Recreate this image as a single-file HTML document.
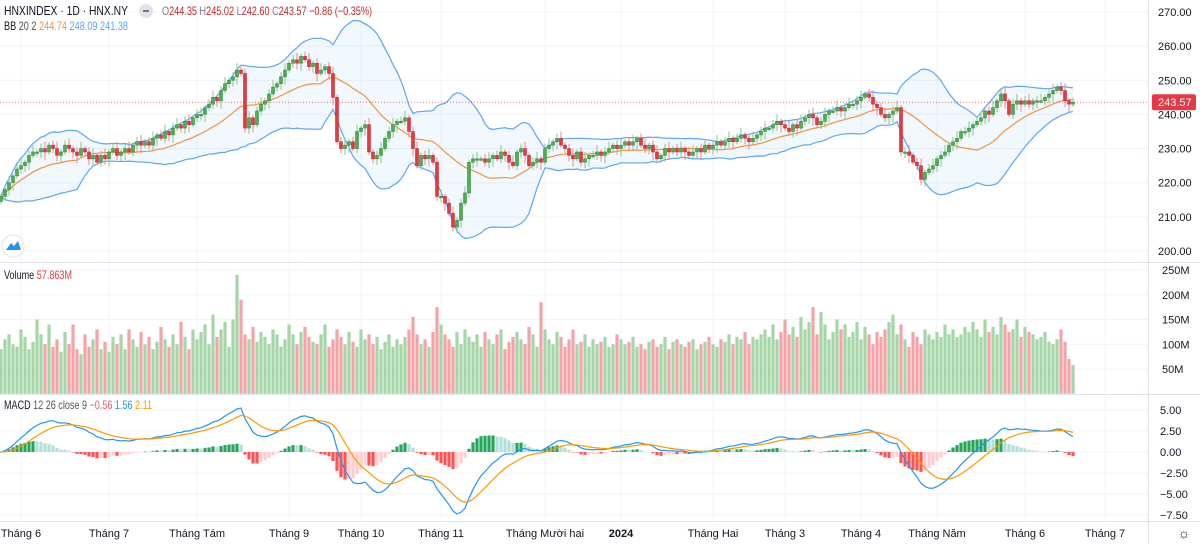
<!DOCTYPE html>
<html><head><meta charset="utf-8"><style>
body{margin:0;background:#fff;font-family:"Liberation Sans",sans-serif}
svg{display:block}
text{font-family:"Liberation Sans",sans-serif}
</style></head><body>
<svg id="c" width="1200" height="544" xmlns="http://www.w3.org/2000/svg"></svg>
<script>
const closes=[216,218,220,222,224,225,226,228,229,229,
230,229,231,230,228,229,231,230,229,228,
230,229,227,228,226,228,227,229,230,228,
229,230,229,231,232,231,232,231,233,234,
233,235,234,236,237,236,238,237,239,240,
240,242,243,245,244,247,249,250,251,253,
252,236,239,237,241,243,244,246,248,249,
251,253,255,256,255,257,256,254,255,252,
253,254,252,245,232,230,231,232,230,235,
236,237,229,227,228,230,233,235,237,238,
238,239,235,230,225,228,227,228,226,216,
216,214,211,207,209,214,217,226,227,227,
227,226,227,228,227,229,228,226,225,229,
230,228,225,226,227,226,230,231,232,233,
231,230,228,227,229,226,227,228,228,229,
228,229,230,231,230,231,232,231,232,233,
231,230,231,229,227,228,230,229,230,229,
230,229,228,229,230,229,231,230,231,232,
231,232,233,232,233,234,233,232,233,234,
235,236,236,237,238,237,236,235,237,236,
238,239,240,239,237,238,240,241,241,242,
241,242,243,243,244,245,246,245,243,242,
240,239,240,241,242,229,229,228,226,225,
221,223,224,225,227,228,229,231,232,233,
235,235,236,237,238,239,241,240,242,244,
246,244,240,243,244,243,244,243,244,244,
244,245,246,247,248,247,244,243,243.57];
const volumes=[90,110,120,100,95,130,115,90,105,150,
120,100,140,95,110,85,125,100,140,90,
80,120,95,110,130,90,105,85,115,100,
120,90,130,110,95,125,100,115,90,105,
135,110,95,120,100,145,115,90,130,110,
125,140,100,160,115,130,145,95,150,240,
190,120,110,135,105,125,115,100,130,120,
95,110,140,120,100,125,135,115,105,100,
120,140,95,110,130,115,100,125,105,95,
130,110,120,100,115,90,105,120,95,110,
100,115,130,155,120,100,110,95,125,175,
140,120,110,95,125,100,130,115,105,120,
95,125,110,100,120,130,90,105,115,125,
110,100,135,120,95,185,130,110,100,125,
115,95,110,130,100,105,120,95,110,100,
105,115,95,100,120,110,100,105,115,95,
100,90,105,110,95,100,115,90,105,110,
100,95,105,110,90,100,105,115,100,95,
110,105,120,100,115,110,125,100,115,110,
120,130,115,140,110,125,150,120,135,115,
155,130,145,175,120,165,140,110,125,150,
130,140,115,125,145,110,135,120,100,125,
115,130,145,160,120,140,110,95,125,115,
100,130,120,110,125,115,140,120,130,115,
120,135,125,145,130,115,150,125,135,120,
155,140,125,130,150,115,135,125,120,110,
115,125,105,100,110,130,105,70,57.863];
const priceTicks=[270,260,250,240,230,220,210,200];
const volTicks=[250,200,150,100,50];
const macdTicks=[5,2.5,0,-2.5,-5,-7.5];
const monthLabels=["Tháng 6","Tháng 7","Tháng Tám","Tháng 9","Tháng 10","Tháng 11","Tháng Mười hai","2024","Tháng Hai","Tháng 3","Tháng 4","Tháng Năm","Tháng 6","Tháng 7"];
const monthBar=[5,27,49,72,90,110,136,155,178,196,215,234,256,276];

const NS="http://www.w3.org/2000/svg",S=document.getElementById('c');
function el(t,a,p){const e=document.createElementNS(NS,t);for(const k in a)e.setAttribute(k,a[k]);(p||S).appendChild(e);return e;}
const N=closes.length;
const X=i=>1073-(N-1-i)*4;
const PY=p=>12+(270-p)*3.414;
const VY=v=>393.75-v*0.495;
const MY=m=>452-m*8.4;
const fmt=v=>(v<0?"−":"")+Math.abs(v).toFixed(2);

const grid=el('g',{});
priceTicks.forEach(t=>el('line',{x1:0,x2:1148,y1:PY(t),y2:PY(t),stroke:'#f0f3fa'},grid));
volTicks.forEach(t=>el('line',{x1:0,x2:1148,y1:VY(t),y2:VY(t),stroke:'#f0f3fa'},grid));
macdTicks.forEach(t=>el('line',{x1:0,x2:1148,y1:MY(t),y2:MY(t),stroke:'#f0f3fa'},grid));
monthBar.forEach(b=>el('line',{x1:X(b),x2:X(b),y1:0,y2:521,stroke:'#f0f3fa'},grid));
[262.5,394.5,521.5].forEach(y=>el('line',{x1:0,x2:1200,y1:y,y2:y,stroke:'#e0e3eb'}));
el('line',{x1:1148.5,x2:1148.5,y1:0,y2:544,stroke:'#e0e3eb'});

const opens=closes.map((c,i)=>i?closes[i-1]:c-1.5);
const bbM=[],bbU=[],bbL=[];
for(let i=0;i<N;i++){const s=closes.slice(Math.max(0,i-19),i+1);const m=s.reduce((a,b)=>a+b,0)/s.length;const sd=Math.sqrt(s.reduce((a,b)=>a+(b-m)**2,0)/s.length);bbM.push(m);bbU.push(m+2*sd);bbL.push(m-2*sd);}
const bb=el('g',{});
let fill='M'+closes.map((_,i)=>X(i)+','+PY(bbU[i])).join('L')+'L'+closes.map((_,i)=>X(N-1-i)+','+PY(bbL[N-1-i])).join('L')+'Z';
el('path',{d:fill,fill:'rgba(33,150,243,0.06)'},bb);
const line=a=>'M'+a.map((v,i)=>X(i)+','+PY(v)).join('L');
el('path',{d:line(bbU),fill:'none',stroke:'#5aa7f2','stroke-width':1.2},bb);
el('path',{d:line(bbL),fill:'none',stroke:'#5aa7f2','stroke-width':1.2},bb);
el('path',{d:line(bbM),fill:'none',stroke:'#f4923a','stroke-width':1.2},bb);

const cg=el('g',{});
closes.forEach((c,i)=>{const o=opens[i];const up=c>=o;const col=up?'#4caf50':'#e53945';const edge=up?'#2e7d32':'#b71c1c';
const hi=Math.max(o,c)+0.8+(i%3)*0.6,lo=Math.min(o,c)-0.8-(i%4)*0.5;const x=X(i);
el('line',{x1:x,x2:x,y1:PY(hi),y2:PY(lo),stroke:up?'#8bc48e':'#e88a90'},cg);
const y1=PY(Math.max(o,c)),h=Math.max(1.5,PY(Math.min(o,c))-y1);
el('rect',{x:x-1.5,y:y1,width:3,height:h,fill:col,stroke:edge,'stroke-width':0.5},cg);});
el('line',{x1:0,x2:1148,y1:PY(243.57),y2:PY(243.57),stroke:'#e53945','stroke-dasharray':'1 2','stroke-width':1,opacity:0.7});

const vg=el('g',{});
volumes.forEach((v,i)=>{const up=closes[i]>=opens[i];el('rect',{x:X(i)-1.6,y:VY(v),width:3.2,height:VY(0)-VY(v),fill:up?'#a5d6a7':'#f4a3a8'},vg);});

const ema=(a,n)=>{const k=2/(n+1);const r=[a[0]];for(let i=1;i<a.length;i++)r.push(a[i]*k+r[i-1]*(1-k));return r;};
const e12=ema(closes,12),e26=ema(closes,26);const macd=e12.map((v,i)=>v-e26[i]);const sig=ema(macd,9);const hist=macd.map((v,i)=>v-sig[i]);
const mg=el('g',{});
hist.forEach((h,i)=>{const prev=i?hist[i-1]:0;let col=h>=0?(h>=prev?'#26a65a':'#b2dfdb'):(h<prev?'#ff5252':'#ffcdd2');
const y=Math.min(MY(h),MY(0)),ht=Math.max(0.5,Math.abs(MY(h)-MY(0)));el('rect',{x:X(i)-1.6,y:y,width:3.2,height:ht,fill:col},mg);});
const ml=el('path',{d:'M'+macd.map((v,i)=>X(i)+','+MY(v)).join('L'),fill:'none',stroke:'#2196f3','stroke-width':1.2});

const sl=el('path',{d:'M'+sig.map((v,i)=>X(i)+','+MY(v)).join('L'),fill:'none',stroke:'#ff9800','stroke-width':1.2});


const ax=el('g',{'font-size':11,fill:'#131722'});
priceTicks.forEach(t=>{const e=el('text',{x:1158,y:PY(t)+4},ax);e.textContent=t.toFixed(2);});
volTicks.forEach(t=>{const e=el('text',{x:1162,y:VY(t)+4},ax);e.textContent=t+'M';});
macdTicks.forEach(t=>{const e=el('text',{x:1160,y:MY(t)+4},ax);e.textContent=fmt(t);});
const pl=el('rect',{x:1152,y:PY(243.57)-8,width:44,height:16,rx:2,fill:'#e53945'});
const pt=el('text',{x:1158,y:PY(243.57)+4,'font-size':11,fill:'#fff'});pt.textContent='243.57';
const xa=el('g',{'font-size':11,fill:'#131722','text-anchor':'middle'});
monthLabels.forEach((m,k)=>{const e=el('text',{x:X(monthBar[k]),y:537,'font-weight':m==='2024'?'bold':'normal'},xa);e.textContent=m;});

const lg=el('text',{x:4,y:15,'font-size':13,fill:'#131722',textLength:124,lengthAdjust:'spacingAndGlyphs'});
lg.textContent='HNXINDEX · 1D · HNX.NY';
const hb=el('rect',{x:139,y:4,width:14,height:14,rx:7,fill:'#e0e3eb'});
el('line',{x1:143,x2:149,y1:11,y2:11,stroke:'#555','stroke-width':1.5});
const ohlc=el('text',{x:162,y:15,'font-size':12,fill:'#c62828',textLength:210,lengthAdjust:'spacingAndGlyphs'});
ohlc.innerHTML='<tspan fill="#787b86">O</tspan>244.35 <tspan fill="#787b86">H</tspan>245.02 <tspan fill="#787b86">L</tspan>242.60 <tspan fill="#787b86">C</tspan>243.57 −0.86 (−0.35%)';
const bl=el('text',{x:4,y:30,'font-size':12,fill:'#131722',textLength:124,lengthAdjust:'spacingAndGlyphs'});
bl.innerHTML='BB <tspan fill="#555">20 2</tspan> <tspan fill="#f4923a">244.74</tspan> <tspan fill="#5aa7f2">248.09</tspan> <tspan fill="#5aa7f2">241.38</tspan>';
const vl=el('text',{x:4,y:279,'font-size':12,fill:'#131722',textLength:68,lengthAdjust:'spacingAndGlyphs'});
vl.innerHTML='Volume <tspan fill="#e53945">57.863M</tspan>';
const mlg=el('text',{x:4,y:409,'font-size':12,fill:'#131722',textLength:148,lengthAdjust:'spacingAndGlyphs'});
mlg.innerHTML='MACD <tspan fill="#555">12 26 close 9</tspan> <tspan fill="#f06070">−0.56</tspan> <tspan fill="#2196f3">1.56</tspan> <tspan fill="#ff9800">2.11</tspan>';
const logo=el('circle',{cx:13,cy:246,r:11,fill:'#fff',stroke:'#e0e3eb'});
el('path',{d:'M6,250 L11,243 L14,246 L18,241 L21,250 Z',fill:'#2196f3'});
const gear=el('text',{x:1184,y:538,'font-size':14,fill:'#131722','text-anchor':'middle'});gear.textContent='☼';
</script>
</body></html>
